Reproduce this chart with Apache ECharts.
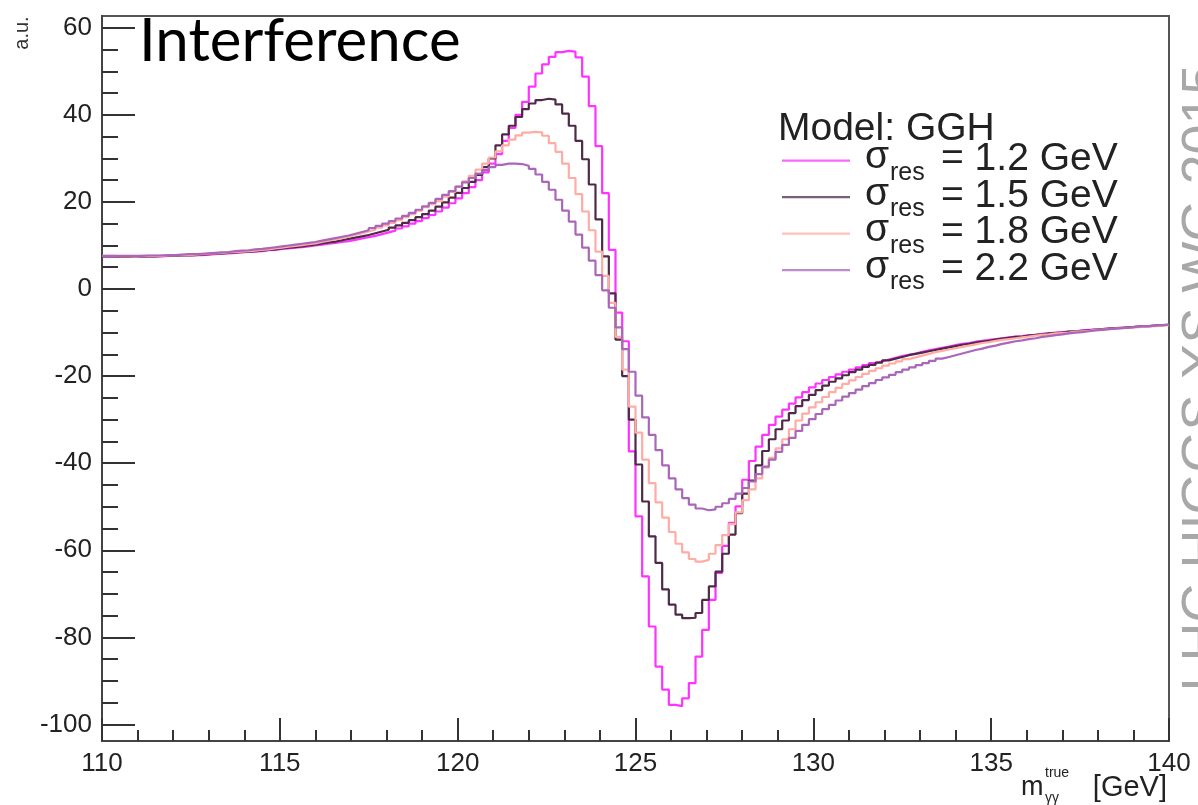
<!DOCTYPE html>
<html>
<head>
<meta charset="utf-8">
<script src="https://cdn.jsdelivr.net/npm/echarts@6/dist/echarts.min.js"></script>
<style>
  html, body { margin: 0; padding: 0; background: #fff; }
  #chart { width: 1198px; height: 805px; }
</style>
</head>
<body>
<div id="chart"></div>
<script>
// histogram binning: 160 bins from 110 to 140 GeV
var xMin = 110, xMax = 140, nBins = 160;

var yTicks = [-100, -80, -60, -40, -20, 0, 20, 40, 60];
var yMinorTicks = [-95, -90, -85, -75, -70, -65, -55, -50, -45, -35, -30, -25, -15, -10, -5,
                   5, 10, 15, 25, 30, 35, 45, 50, 55];

var names = ['1.2', '1.5', '1.8', '2.2'];

// sigma_res = 1.2 GeV
var h12 = [
  7.5,7.5,7.5,7.5,7.5,7.5,7.5,7.5,7.5,7.6,
  7.6,7.7,7.7,7.8,7.8,7.9,8.0,8.1,8.2,8.3,
  8.4,8.5,8.6,8.7,8.9,9.0,9.2,9.3,9.5,9.6,
  9.8,10.0,10.2,10.4,10.6,10.8,11.0,11.3,11.6,11.9,
  12.2,12.6,13.0,13.4,13.9,14.4,15.0,15.6,16.3,17.0,
  17.8,18.7,19.7,20.8,22.0,23.4,25.0,26.8,28.8,31.0,
  34.0,37.0,40.0,43.0,46.5,49.5,51.6,53.3,54.4,54.7,
  54.5,53.2,48.8,42.0,32.8,22.0,9.0,-5.4,-12.0,-37.3,
  -52.2,-66.0,-77.5,-86.7,-92.0,-95.5,-95.8,-94.0,-90.5,-84.4,
  -78.3,-71.4,-65.2,-59.0,-53.7,-49.9,-43.8,-39.5,-36.2,-33.5,
  -31.2,-29.3,-27.7,-26.3,-24.9,-23.7,-22.6,-21.7,-20.9,-20.2,
  -19.6,-19.0,-18.5,-18.0,-17.5,-17.0,-16.6,-16.2,-15.8,-15.4,
  -15.1,-14.8,-14.4,-14.1,-13.8,-13.5,-13.2,-12.9,-12.6,-12.4,
  -12.1,-11.9,-11.7,-11.5,-11.3,-11.1,-10.9,-10.8,-10.6,-10.5,
  -10.3,-10.2,-10.0,-9.9,-9.8,-9.7,-9.5,-9.4,-9.3,-9.2,
  -9.1,-9.0,-8.9,-8.8,-8.7,-8.6,-8.5,-8.4,-8.3,-8.2
];

// sigma_res = 1.5 GeV
var h15 = [
  7.5,7.5,7.4,7.4,7.5,7.5,7.5,7.5,7.6,7.6,
  7.6,7.7,7.7,7.8,7.9,8.0,8.1,8.2,8.3,8.4,
  8.5,8.6,8.7,8.8,9.0,9.1,9.3,9.5,9.6,9.8,
  10.0,10.2,10.5,10.7,10.9,11.2,11.5,11.8,12.1,12.4,
  12.8,13.2,13.6,14.1,14.6,15.2,15.8,16.5,17.2,18.0,
  18.9,19.9,21.0,22.1,23.2,24.6,26.2,28.0,30.0,33.0,
  35.5,37.5,39.5,41.3,42.6,43.4,43.7,43.5,42.4,40.3,
  37.5,34.0,29.8,24.0,16.0,7.5,-1.0,-11.6,-20.0,-30.0,
  -40.3,-48.8,-56.8,-62.9,-69.0,-72.5,-74.8,-75.6,-75.5,-74.4,
  -71.4,-68.3,-64.9,-60.8,-56.4,-51.5,-47.0,-44.0,-40.5,-37.2,
  -34.5,-32.2,-30.2,-28.5,-26.9,-25.5,-24.3,-23.2,-22.2,-21.3,
  -20.5,-19.8,-19.1,-18.5,-17.9,-17.4,-16.9,-16.4,-16.0,-15.6,
  -15.2,-14.9,-14.6,-14.3,-14.0,-13.7,-13.4,-13.1,-12.8,-12.6,
  -12.3,-12.1,-11.9,-11.6,-11.4,-11.2,-11.0,-10.9,-10.7,-10.5,
  -10.4,-10.2,-10.1,-10.0,-9.8,-9.7,-9.6,-9.5,-9.3,-9.2,
  -9.1,-9.0,-8.9,-8.8,-8.7,-8.6,-8.5,-8.4,-8.3,-8.2
];

// sigma_res = 1.8 GeV
var h18 = [
  7.6,7.6,7.5,7.5,7.5,7.6,7.6,7.6,7.6,7.7,
  7.7,7.8,7.8,7.9,8.0,8.1,8.2,8.3,8.4,8.5,
  8.6,8.7,8.8,9.0,9.1,9.3,9.5,9.7,9.9,10.1,
  10.3,10.5,10.8,11.1,11.4,11.7,12.0,12.4,12.8,13.2,
  13.6,14.1,14.6,15.2,15.8,16.5,17.2,18.0,18.8,19.5,
  20.2,21.2,22.3,23.5,24.7,26.0,27.4,28.8,30.2,31.6,
  33.0,34.3,35.3,35.9,36.1,36.0,35.2,33.5,31.5,28.8,
  25.5,21.8,17.8,13.5,8.6,3.0,-3.2,-11.0,-18.5,-27.0,
  -33.0,-39.2,-44.6,-49.0,-52.5,-55.8,-58.5,-60.5,-62.0,-62.6,
  -62.2,-60.8,-58.8,-56.5,-54.0,-51.3,-48.5,-46.0,-43.5,-41.0,
  -38.8,-36.6,-34.5,-32.2,-30.2,-28.6,-27.2,-26.0,-24.8,-23.7,
  -22.7,-21.8,-21.0,-20.2,-19.5,-18.8,-18.2,-17.6,-17.1,-16.6,
  -16.1,-15.7,-15.3,-14.9,-14.5,-14.2,-13.9,-13.6,-13.3,-13.0,
  -12.7,-12.4,-12.2,-11.9,-11.7,-11.5,-11.3,-11.1,-10.9,-10.7,
  -10.5,-10.4,-10.2,-10.1,-10.0,-9.8,-9.7,-9.6,-9.4,-9.3,
  -9.2,-9.1,-9.0,-8.9,-8.8,-8.7,-8.6,-8.5,-8.4,-8.3
];

// sigma_res = 2.2 GeV
var h22 = [
  7.6,7.6,7.6,7.6,7.6,7.6,7.7,7.7,7.7,7.8,
  7.8,7.9,8.0,8.0,8.1,8.2,8.3,8.4,8.5,8.7,
  8.8,8.9,9.1,9.2,9.4,9.6,9.8,10.0,10.2,10.4,
  10.6,10.8,11.1,11.4,11.7,12.0,12.3,12.7,13.1,13.5,
  14.0,14.5,15.0,15.6,16.2,16.8,17.5,18.2,19.0,19.8,
  20.7,21.6,22.5,23.5,24.5,25.5,26.5,27.3,28.0,28.5,
  28.8,28.8,28.7,28.3,27.6,26.3,24.6,22.8,20.5,18.0,
  15.5,12.5,9.5,6.5,3.2,-0.3,-4.3,-8.8,-13.8,-19.0,
  -24.5,-29.5,-33.5,-37.0,-40.5,-43.5,-46.0,-48.0,-49.5,-50.4,
  -50.8,-50.6,-50.0,-49.2,-48.2,-47.0,-45.7,-44.2,-42.5,-40.8,
  -39.2,-37.4,-35.8,-34.2,-32.6,-31.2,-29.9,-28.7,-27.6,-26.6,
  -25.6,-24.7,-23.9,-23.1,-22.3,-21.6,-20.9,-20.3,-19.7,-19.1,
  -18.5,-18.0,-17.5,-17.0,-16.5,-16.0,-15.6,-15.2,-14.8,-14.4,
  -14.0,-13.7,-13.3,-13.0,-12.6,-12.3,-12.0,-11.8,-11.5,-11.3,
  -11.0,-10.8,-10.6,-10.4,-10.2,-10.0,-9.9,-9.7,-9.5,-9.4,
  -9.2,-9.1,-9.0,-8.9,-8.7,-8.6,-8.5,-8.4,-8.3,-8.2
];

var hists = [h12, h15, h18, h22];
var colors = ['#ff33ff', '#4e2a48', '#ffaca4', '#aa66b8'];

// turn bin contents into step points (lower edges + closing point at xMax)
var toSteps = function(h) {
    var w = (xMax - xMin) / nBins;
    var res = [];
    for (var i = 0; i < h.length; i++) {
        res.push([xMin + i * w, h[i]]);
    }
    res.push([xMax, h[h.length - 1]]);
    return res;
};

var chart = echarts.init(document.getElementById('chart'));
var font = '"Liberation Sans", Arial, sans-serif';

var series = [];
for (var s = 0; s < hists.length; s++) {
    series.push({
        name: names[s],
        type: 'line',
        step: 'end',
        data: toSteps(hists[s]),
        showSymbol: false,
        silent: true,
        animation: false,
        lineStyle: { color: colors[s], width: 2.2 },
        z: 2 + s
    });
}

// legend drawn by hand to get the sigma_res subscript
var graphics = [{
    type: 'text',
    style: { x: 139, y: 42, text: 'Interference', font: '60px Lato, "Open Sans", sans-serif',
             fill: '#000', textVerticalAlign: 'middle' }
}, {
    type: 'text',
    style: { x: 778, y: 129, text: 'Model: GGH', font: '39px ' + font,
             fill: '#222', textVerticalAlign: 'middle' }
}, {
    type: 'text',
    rotation: Math.PI / 2,
    x: 22, y: 33,
    style: { x: 0, y: 0, text: 'a.u.', font: '20px ' + font, fill: '#333',
             textAlign: 'center', textVerticalAlign: 'middle' }
}, {
    type: 'text',
    style: { x: 1021, y: 788, text: 'm', font: '27px ' + font, fill: '#222',
             textVerticalAlign: 'middle' }
}, {
    type: 'text',
    style: { x: 1045, y: 773, text: 'true', font: '14px ' + font, fill: '#222',
             textVerticalAlign: 'middle' }
}, {
    type: 'text',
    style: { x: 1045, y: 798, text: 'γγ', font: '14px ' + font, fill: '#222',
             textVerticalAlign: 'middle' }
}, {
    type: 'text',
    style: { x: 1167, y: 788, text: '[GeV]', font: '29px ' + font, fill: '#222',
             textAlign: 'right', textVerticalAlign: 'middle' }
}, {
    // watermark at the right edge, mostly cut off by the page border
    type: 'text',
    rotation: Math.PI / 2,
    x: 1204, y: 378,
    style: { x: 0, y: 0, text: 'LHC HIGGS XS WG 2015', font: '54px ' + font, fill: '#a8a8a8',
             textAlign: 'center', textVerticalAlign: 'middle' }
}];

for (var r = 0; r < names.length; r++) {
    var yRow = 160.7 + 36.5 * r;
    graphics.push({
        type: 'line',
        shape: { x1: 782, y1: yRow, x2: 850, y2: yRow },
        style: { stroke: colors[r], lineWidth: 2.2, opacity: 0.75 }
    }, {
        type: 'text',
        style: { x: 865, y: yRow - 3, text: 'σ', font: '39px ' + font, fill: '#222',
                 textVerticalAlign: 'middle' }
    }, {
        type: 'text',
        style: { x: 890, y: yRow + 12, text: 'res', font: '25px ' + font, fill: '#222',
                 textVerticalAlign: 'middle' }
    }, {
        type: 'text',
        style: { x: 941, y: yRow - 1, text: '= ' + names[r] + ' GeV', font: '39px ' + font,
                 fill: '#222', textVerticalAlign: 'middle' }
    });
}

var option = {
    backgroundColor: '#fff',
    animation: false,
    grid: {
        left: 102, right: 29, top: 16, bottom: 64,
        show: true, borderColor: '#555', borderWidth: 2
    },
    xAxis: {
        type: 'value',
        min: xMin, max: xMax, interval: 5,
        axisLine: { show: true, onZero: false, lineStyle: { color: '#444', width: 2 } },
        axisTick: { inside: true, length: 23, lineStyle: { color: '#333', width: 2 } },
        minorTick: { show: true, splitNumber: 5, length: 11, lineStyle: { color: '#333', width: 2 } },
        axisLabel: { fontSize: 26, fontFamily: font, color: '#222', margin: 10 },
        splitLine: { show: false }
    },
    yAxis: [{
        type: 'value',
        min: -103.8, max: 62.7,
        axisLine: { show: true, onZero: false, lineStyle: { color: '#444', width: 2 } },
        axisTick: { inside: true, length: 33, customValues: yTicks, lineStyle: { color: '#333', width: 2 } },
        axisLabel: { fontSize: 26, fontFamily: font, color: '#222', margin: 10, customValues: yTicks },
        splitLine: { show: false }
    }, {
        type: 'value',
        min: -103.8, max: 62.7,
        position: 'left',
        axisLine: { show: false },
        axisTick: { show: true, inside: true, length: 16, customValues: yMinorTicks, lineStyle: { color: '#333', width: 2 } },
        axisLabel: { show: false },
        splitLine: { show: false }
    }],
    series: series,
    graphic: graphics
};

chart.setOption(option);
</script>
</body>
</html>
